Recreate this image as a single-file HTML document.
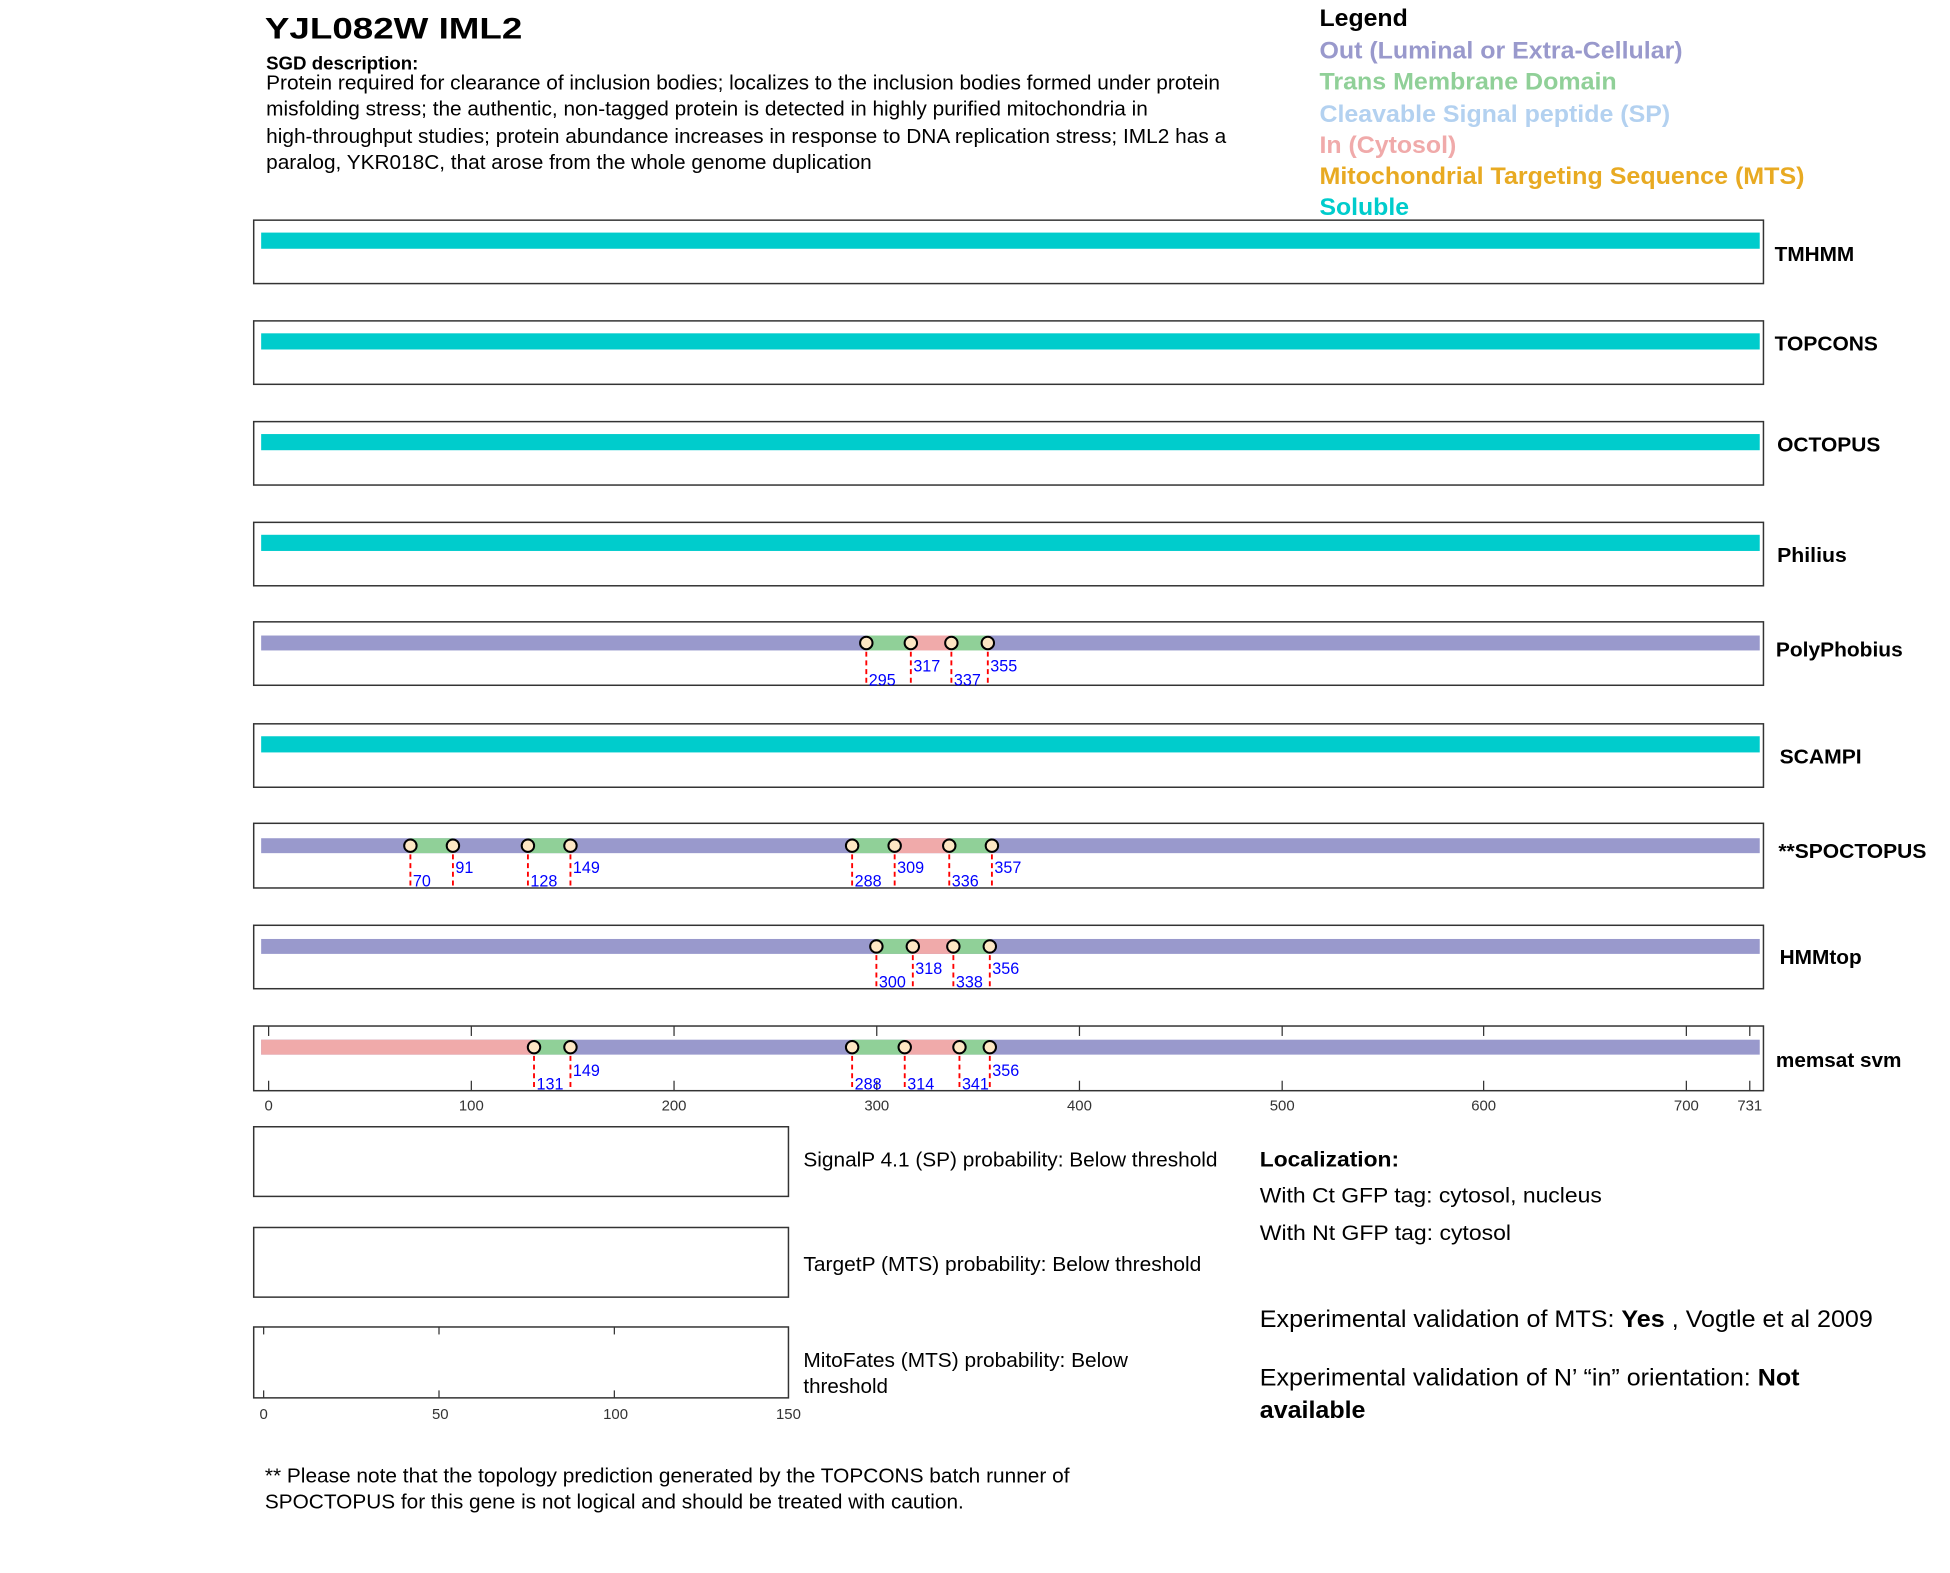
<!DOCTYPE html>
<html><head><meta charset="utf-8"><style>
html,body{margin:0;padding:0;background:#fff;}
svg{display:block;}
text{font-family:"Liberation Sans",Arial,sans-serif;}
.lab{font-size:16px;font-weight:bold;fill:#000;}
.n{font-size:13px;fill:#0000ff;}
.tk{font-size:12px;fill:#333;}
.d{stroke:#f00;stroke-width:1.5;stroke-dasharray:4,3;}
.c{fill:#fde7c4;stroke:#000;stroke-width:1.6;}
.f{fill:none;stroke:#333;stroke-width:1.2;}
</style></head><body>
<svg width="1950" height="1573" viewBox="0 0 1568 1264.8" xmlns="http://www.w3.org/2000/svg">
<rect width="1568" height="1264.8" fill="#fff"/>
<text x="213" y="31" font-size="24" font-weight="bold" textLength="207" lengthAdjust="spacingAndGlyphs">YJL082W  IML2</text>
<text x="214" y="56" font-size="15" font-weight="bold">SGD description:</text>
<g font-size="16">
<text x="214" y="72" textLength="767" lengthAdjust="spacingAndGlyphs">Protein required for clearance of inclusion bodies; localizes to the inclusion bodies formed under protein</text>
<text x="214" y="93" textLength="709" lengthAdjust="spacingAndGlyphs">misfolding stress; the authentic, non-tagged protein is detected in highly purified mitochondria in</text>
<text x="214" y="115" textLength="772" lengthAdjust="spacingAndGlyphs">high-throughput studies; protein abundance increases in response to DNA replication stress; IML2 has a</text>
<text x="214" y="136" textLength="487" lengthAdjust="spacingAndGlyphs">paralog, YKR018C, that arose from the whole genome duplication</text>
</g>
<g font-size="19" font-weight="bold">
<text x="1061" y="21" fill="#000" textLength="71" lengthAdjust="spacingAndGlyphs">Legend</text>
<text x="1061" y="47" fill="#9999cc" textLength="292" lengthAdjust="spacingAndGlyphs">Out (Luminal or Extra-Cellular)</text>
<text x="1061" y="72" fill="#90d098" textLength="239" lengthAdjust="spacingAndGlyphs">Trans Membrane Domain</text>
<text x="1061" y="98" fill="#b3d1f0" textLength="282" lengthAdjust="spacingAndGlyphs">Cleavable Signal peptide (SP)</text>
<text x="1061" y="123" fill="#f0aaaa" textLength="110" lengthAdjust="spacingAndGlyphs">In (Cytosol)</text>
<text x="1061" y="148" fill="#e8aa22" textLength="390" lengthAdjust="spacingAndGlyphs">Mitochondrial Targeting Sequence (MTS)</text>
<text x="1061" y="173" fill="#00cccc" textLength="72" lengthAdjust="spacingAndGlyphs">Soluble</text>
</g>

<g class="f">
<rect x="204" y="177" width="1214" height="51"/>
<rect x="204" y="258" width="1214" height="51"/>
<rect x="204" y="339" width="1214" height="51"/>
<rect x="204" y="420" width="1214" height="51"/>
<rect x="204" y="500" width="1214" height="51"/>
<rect x="204" y="582" width="1214" height="51"/>
<rect x="204" y="662" width="1214" height="52"/>
<rect x="204" y="744" width="1214" height="51"/>
<rect x="204" y="825" width="1214" height="52"/>
</g>
<g fill="#00cccc">
<rect x="210" y="187" width="1205" height="13"/>
<rect x="210" y="268" width="1205" height="13"/>
<rect x="210" y="349" width="1205" height="13"/>
<rect x="210" y="430" width="1205" height="13"/>
<rect x="210" y="592" width="1205" height="13"/>
</g>
<g class="lab">
<text x="1427" y="210" textLength="64" lengthAdjust="spacingAndGlyphs">TMHMM</text>
<text x="1427" y="282" textLength="83" lengthAdjust="spacingAndGlyphs">TOPCONS</text>
<text x="1429" y="363" textLength="83" lengthAdjust="spacingAndGlyphs">OCTOPUS</text>
<text x="1429" y="452" textLength="56" lengthAdjust="spacingAndGlyphs">Philius</text>
<text x="1428" y="528" textLength="102" lengthAdjust="spacingAndGlyphs">PolyPhobius</text>
<text x="1431" y="614" textLength="66" lengthAdjust="spacingAndGlyphs">SCAMPI</text>
<text x="1430" y="690" textLength="119" lengthAdjust="spacingAndGlyphs">**SPOCTOPUS</text>
<text x="1431" y="775" textLength="66" lengthAdjust="spacingAndGlyphs">HMMtop</text>
<text x="1428" y="858" textLength="101" lengthAdjust="spacingAndGlyphs">memsat svm</text>
</g>

<g>
<rect x="210" y="511" width="486.6" height="12" fill="#9999cc"/>
<rect x="696.6" y="511" width="35.8" height="12" fill="#90d098"/>
<rect x="732.4" y="511" width="32.6" height="12" fill="#f0aaaa"/>
<rect x="765" y="511" width="29.3" height="12" fill="#90d098"/>
<rect x="794.3" y="511" width="620.7" height="12" fill="#9999cc"/>
<line class="d" x1="696.6" y1="517" x2="696.6" y2="551"/>
<line class="d" x1="732.4" y1="517" x2="732.4" y2="551"/>
<line class="d" x1="765" y1="517" x2="765" y2="551"/>
<line class="d" x1="794.3" y1="517" x2="794.3" y2="551"/>
<circle class="c" cx="696.6" cy="517" r="5"/><circle class="c" cx="732.4" cy="517" r="5"/>
<circle class="c" cx="765" cy="517" r="5"/><circle class="c" cx="794.3" cy="517" r="5"/>
<text class="n" x="698.6" y="551">295</text><text class="n" x="734.4" y="540">317</text>
<text class="n" x="767" y="551">337</text><text class="n" x="796.3" y="540">355</text>
</g>

<g>
<rect x="210" y="674" width="1205" height="12" fill="#9999cc"/>
<rect x="330" y="674" width="34.2" height="12" fill="#90d098"/>
<rect x="424.5" y="674" width="34.2" height="12" fill="#90d098"/>
<rect x="685.2" y="674" width="34.2" height="12" fill="#90d098"/>
<rect x="719.4" y="674" width="43.9" height="12" fill="#f0aaaa"/>
<rect x="763.3" y="674" width="34.3" height="12" fill="#90d098"/>
<line class="d" x1="330" y1="680" x2="330" y2="714"/>
<line class="d" x1="364.2" y1="680" x2="364.2" y2="714"/>
<line class="d" x1="424.5" y1="680" x2="424.5" y2="714"/>
<line class="d" x1="458.7" y1="680" x2="458.7" y2="714"/>
<line class="d" x1="685.2" y1="680" x2="685.2" y2="714"/>
<line class="d" x1="719.4" y1="680" x2="719.4" y2="714"/>
<line class="d" x1="763.3" y1="680" x2="763.3" y2="714"/>
<line class="d" x1="797.6" y1="680" x2="797.6" y2="714"/>
<circle class="c" cx="330" cy="680" r="5"/><circle class="c" cx="364.2" cy="680" r="5"/>
<circle class="c" cx="424.5" cy="680" r="5"/><circle class="c" cx="458.7" cy="680" r="5"/>
<circle class="c" cx="685.2" cy="680" r="5"/><circle class="c" cx="719.4" cy="680" r="5"/>
<circle class="c" cx="763.3" cy="680" r="5"/><circle class="c" cx="797.6" cy="680" r="5"/>
<text class="n" x="332" y="713">70</text><text class="n" x="366.2" y="702">91</text>
<text class="n" x="426.5" y="713">128</text><text class="n" x="460.7" y="702">149</text>
<text class="n" x="687.2" y="713">288</text><text class="n" x="721.4" y="702">309</text>
<text class="n" x="765.3" y="713">336</text><text class="n" x="799.6" y="702">357</text>
</g>

<g>
<rect x="210" y="755" width="1205" height="12" fill="#9999cc"/>
<rect x="704.7" y="755" width="29.3" height="12" fill="#90d098"/>
<rect x="734" y="755" width="32.6" height="12" fill="#f0aaaa"/>
<rect x="766.6" y="755" width="29.3" height="12" fill="#90d098"/>
<line class="d" x1="704.7" y1="761" x2="704.7" y2="795"/>
<line class="d" x1="734" y1="761" x2="734" y2="795"/>
<line class="d" x1="766.6" y1="761" x2="766.6" y2="795"/>
<line class="d" x1="795.9" y1="761" x2="795.9" y2="795"/>
<circle class="c" cx="704.7" cy="761" r="5"/><circle class="c" cx="734" cy="761" r="5"/>
<circle class="c" cx="766.6" cy="761" r="5"/><circle class="c" cx="795.9" cy="761" r="5"/>
<text class="n" x="706.7" y="794">300</text><text class="n" x="736" y="783">318</text>
<text class="n" x="768.6" y="794">338</text><text class="n" x="797.9" y="783">356</text>
</g>

<g>
<g stroke="#333" stroke-width="1">
<line x1="216" y1="825" x2="216" y2="833"/><line x1="216" y1="877" x2="216" y2="869"/>
<line x1="379" y1="825" x2="379" y2="833"/><line x1="379" y1="877" x2="379" y2="869"/>
<line x1="542" y1="825" x2="542" y2="833"/><line x1="542" y1="877" x2="542" y2="869"/>
<line x1="705" y1="825" x2="705" y2="833"/><line x1="705" y1="877" x2="705" y2="869"/>
<line x1="868" y1="825" x2="868" y2="833"/><line x1="868" y1="877" x2="868" y2="869"/>
<line x1="1031" y1="825" x2="1031" y2="833"/><line x1="1031" y1="877" x2="1031" y2="869"/>
<line x1="1193" y1="825" x2="1193" y2="833"/><line x1="1193" y1="877" x2="1193" y2="869"/>
<line x1="1356" y1="825" x2="1356" y2="833"/><line x1="1356" y1="877" x2="1356" y2="869"/>
<line x1="1407" y1="825" x2="1407" y2="833"/><line x1="1407" y1="877" x2="1407" y2="869"/>
</g>
<rect x="210" y="836" width="1205" height="12" fill="#9999cc"/>
<rect x="210" y="836" width="219.4" height="12" fill="#f0aaaa"/>
<rect x="429.4" y="836" width="29.3" height="12" fill="#90d098"/>
<rect x="685.2" y="836" width="42.3" height="12" fill="#90d098"/>
<rect x="727.5" y="836" width="44" height="12" fill="#f0aaaa"/>
<rect x="771.5" y="836" width="24.4" height="12" fill="#90d098"/>
<line class="d" x1="429.4" y1="842" x2="429.4" y2="877"/>
<line class="d" x1="458.7" y1="842" x2="458.7" y2="877"/>
<line class="d" x1="685.2" y1="842" x2="685.2" y2="877"/>
<line class="d" x1="727.5" y1="842" x2="727.5" y2="877"/>
<line class="d" x1="771.5" y1="842" x2="771.5" y2="877"/>
<line class="d" x1="795.9" y1="842" x2="795.9" y2="877"/>
<circle class="c" cx="429.4" cy="842" r="5"/><circle class="c" cx="458.7" cy="842" r="5"/>
<circle class="c" cx="685.2" cy="842" r="5"/><circle class="c" cx="727.5" cy="842" r="5"/>
<circle class="c" cx="771.5" cy="842" r="5"/><circle class="c" cx="795.9" cy="842" r="5"/>
<text class="n" x="431.4" y="876">131</text><text class="n" x="460.7" y="865">149</text>
<text class="n" x="687.2" y="876">288</text><text class="n" x="729.5" y="876">314</text>
<text class="n" x="773.5" y="876">341</text><text class="n" x="797.9" y="865">356</text>
</g>
<g class="tk" text-anchor="middle">
<text x="216" y="893">0</text><text x="379" y="893">100</text><text x="542" y="893">200</text>
<text x="705" y="893">300</text><text x="868" y="893">400</text><text x="1031" y="893">500</text>
<text x="1193" y="893">600</text><text x="1356" y="893">700</text><text x="1407" y="893">731</text>
</g>

<g class="f">
<rect x="204" y="906" width="430" height="56"/>
<rect x="204" y="987" width="430" height="56"/>
<rect x="204" y="1067" width="430" height="57"/>
</g>
<g stroke="#333" stroke-width="1">
<line x1="212" y1="1067" x2="212" y2="1073"/><line x1="212" y1="1124" x2="212" y2="1118"/>
<line x1="353" y1="1067" x2="353" y2="1073"/><line x1="353" y1="1124" x2="353" y2="1118"/>
<line x1="494" y1="1067" x2="494" y2="1073"/><line x1="494" y1="1124" x2="494" y2="1118"/>
</g>
<g class="tk" text-anchor="middle">
<text x="212" y="1141">0</text><text x="354" y="1141">50</text><text x="495" y="1141">100</text><text x="634" y="1141">150</text>
</g>
<g font-size="16">
<text x="646" y="938" textLength="333" lengthAdjust="spacingAndGlyphs">SignalP 4.1 (SP) probability: Below threshold</text>
<text x="646" y="1022" textLength="320" lengthAdjust="spacingAndGlyphs">TargetP (MTS) probability: Below threshold</text>
<text x="646" y="1099" textLength="261" lengthAdjust="spacingAndGlyphs">MitoFates (MTS) probability: Below</text>
<text x="646" y="1120" textLength="68" lengthAdjust="spacingAndGlyphs">threshold</text>
</g>
<text x="1013" y="938" font-size="17" font-weight="bold" textLength="112" lengthAdjust="spacingAndGlyphs">Localization:</text>
<text x="1013" y="967" font-size="17" textLength="275" lengthAdjust="spacingAndGlyphs">With Ct GFP tag: cytosol, nucleus</text>
<text x="1013" y="997" font-size="17" textLength="202" lengthAdjust="spacingAndGlyphs">With Nt GFP tag: cytosol</text>
<text x="1013" y="1067" font-size="19" textLength="493" lengthAdjust="spacingAndGlyphs">Experimental validation of MTS: <tspan font-weight="bold">Yes</tspan> , Vogtle et al 2009</text>
<text x="1013" y="1114" font-size="19" textLength="434" lengthAdjust="spacingAndGlyphs">Experimental validation of N’ “in” orientation: <tspan font-weight="bold">Not</tspan></text>
<text x="1013" y="1140" font-size="19" font-weight="bold" textLength="85" lengthAdjust="spacingAndGlyphs">available</text>
<g font-size="16">
<text x="213" y="1192" textLength="647" lengthAdjust="spacingAndGlyphs">** Please note that the topology prediction generated by the TOPCONS batch runner of</text>
<text x="213" y="1213" textLength="562" lengthAdjust="spacingAndGlyphs">SPOCTOPUS for this gene is not logical and should be treated with caution.</text>
</g>
</svg>
</body></html>
